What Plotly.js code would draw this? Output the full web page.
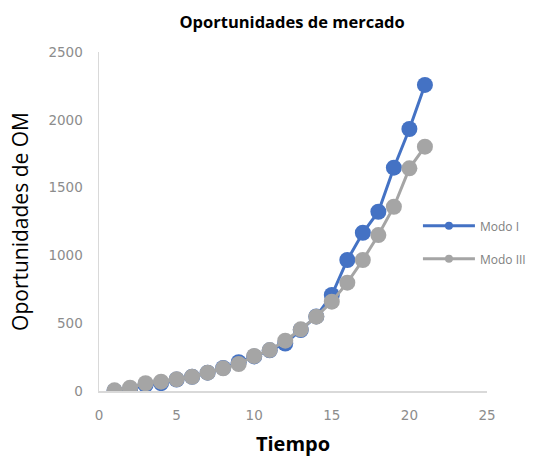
<!DOCTYPE html>
<html><head><meta charset="utf-8">
<script src="https://cdn.plot.ly/plotly-3.0.1.min.js"></script>
<style>html,body{margin:0;padding:0;background:#fff}#c{width:544px;height:457px}</style>
</head><body><div id="c"></div>
<script>
const tiempo = [1,2,3,4,5,6,7,8,9,10,11,12,13,14,15,16,17,18,19,20,21];
const modoI = [0,12,45,58,85,105,135,170,212,255,300,350,450,550,708,966,1167,1322,1647,1932,2257];
const modoIII = [5,24,57,69,86,105,135,167,199,258,302,371,455,548,659,799,966,1150,1359,1642,1802];
const seriesNames = ["Modo I","Modo III"];
const colors = ['#4472C4','#A5A5A5'];
const xTicks = [0,5,10,15,20,25];
const yTicks = [0,500,1000,1500,2000,2500];

const traces = [
  {x:tiempo,y:modoI,name:seriesNames[0],mode:'lines+markers',showlegend:false,
   line:{color:colors[0],width:3},marker:{color:colors[0],size:16}},
  {x:tiempo,y:modoIII,name:seriesNames[1],mode:'lines+markers',showlegend:false,
   line:{color:colors[1],width:3},marker:{color:colors[1],size:16}},
  // legend-only entries (no data drawn) with small legend markers
  {x:[null],y:[null],name:seriesNames[0],mode:'lines+markers',legendgroup:'a',
   line:{color:colors[0],width:3},marker:{color:colors[0],size:8}},
  {x:[null],y:[null],name:seriesNames[1],mode:'lines+markers',legendgroup:'b',
   line:{color:colors[1],width:3},marker:{color:colors[1],size:8}}
];
const layout = {
  width:544,height:457,paper_bgcolor:'#fff',plot_bgcolor:'#fff',
  margin:{l:99,r:57,t:52,b:66},
  title:{text:'<b>Oportunidades de mercado</b>',x:0.537,xanchor:'center',y:0.952,yanchor:'middle',
    font:{family:'Open Sans',size:16.5,color:'#000'}},
  xaxis:{range:[0,25],tickvals:xTicks,showgrid:false,zeroline:false,showline:true,linecolor:'#d9d9d9',linewidth:1.5,
    tickfont:{family:'DejaVu Sans',size:13.5,color:'#8c8c8c'},ticks:'',ticklabelstandoff:11,automargin:false,
    title:{text:'<b>Tiempo</b>',font:{family:'Open Sans',size:20,color:'#000'},standoff:22}},
  yaxis:{range:[0,2500],tickvals:yTicks,showgrid:false,zeroline:false,showline:true,linecolor:'#d9d9d9',linewidth:1.5,
    tickfont:{family:'DejaVu Sans',size:13.5,color:'#8c8c8c'},ticks:'',ticklabelstandoff:12,automargin:false,
    title:{text:'Oportunidades de OM',font:{family:'Open Sans',size:21,color:'#000'},standoff:14}},
  showlegend:true,
  legend:{x:0.822,y:0.53,xanchor:'left',yanchor:'top',bgcolor:'rgba(0,0,0,0)',itemwidth:52,
    traceorder:'grouped',tracegroupgap:14,font:{family:'Open Sans',size:12,color:'#808080'}}
};
Plotly.newPlot('c',traces,layout,{displayModeBar:false,staticPlot:true});
</script></body></html>
